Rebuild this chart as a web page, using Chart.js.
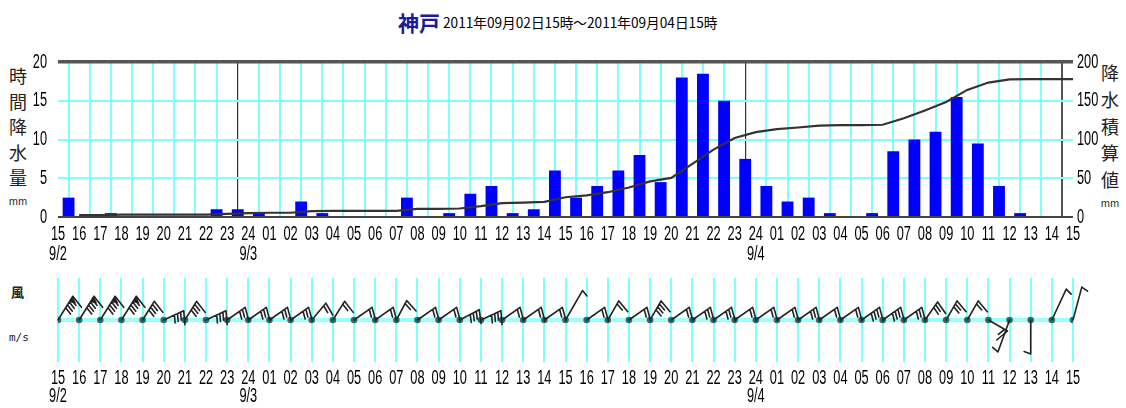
<!DOCTYPE html>
<html><head><meta charset="utf-8">
<script src="https://cdn.jsdelivr.net/npm/chart.js@4.4.1/dist/chart.umd.min.js"></script>
<style>
html,body{margin:0;padding:0;background:#fff;}
body{width:1126px;height:408px;overflow:hidden;position:relative;font-family:'Noto Sans CJK JP',sans-serif;}
canvas{position:absolute;left:0;}
#c1{top:0;}
#c2{top:265px;}
.title{position:absolute;left:398px;top:7px;white-space:nowrap;}
.title .st{color:#1a1a9a;font-size:21px;font-weight:bold;vertical-align:middle;}
.title .dt{display:inline-block;color:#000;font-size:14px;font-family:'Noto Sans CJK JP',sans-serif;transform:scaleX(0.975);transform-origin:left center;vertical-align:middle;margin-left:3px;}
.vt{position:absolute;width:24px;text-align:center;font-size:18px;color:#222;}
.vt .u{font-size:10px;line-height:20px;display:block;}
.wl{position:absolute;font-size:13px;color:#222;}
</style>
</head><body>
<div class="title"><span class="st">神戸</span><span class="dt">2011年09月02日15時～2011年09月04日15時</span></div>
<div class="vt" style="left:6px;top:63px;line-height:25.5px;">時<br>間<br>降<br>水<br>量<span class="u">mm</span></div>
<div class="vt" style="left:1098px;top:59px;line-height:26.8px;">降<br>水<br>積<br>算<br>値<span class="u">mm</span></div>
<div class="wl" style="left:11px;top:282px;font-weight:bold;">風</div>
<div class="wl" style="left:9px;top:331px;font-size:11px;font-family:'DejaVu Sans Mono',monospace;">m/s</div>
<canvas id="c1" width="1126" height="265"></canvas>
<canvas id="c2" width="1126" height="143"></canvas>
<script>
// ---- data ----
const hourLabels = ['15','16','17','18','19','20','21','22','23','24',
  '01','02','03','04','05','06','07','08','09','10','11','12','13','14','15','16','17','18','19','20','21','22','23','24',
  '01','02','03','04','05','06','07','08','09','10','11','12','13','14','15'];
const dateLabels = {0:'9/2', 9:'9/3', 33:'9/4'};
// hourly precipitation (mm) for each hour interval
const hourlyPrecip = [2.5,0,0.5,0,0,0,0,1.0,1.0,
  0.5,0,2.0,0.5,0,0,0,2.5,0,0.5,3.0,4.0,0.5,1.0,6.0,2.5,4.0,6.0,8.0,4.5,18.0,18.5,15.0,7.5,
  4.0,2.0,2.5,0.5,0,0.5,8.5,10.0,11.0,15.5,9.5,4.0,0.5,0,0];
// wind: direction the shaft points (deg clockwise from north) and speed class
const windDir = [32,32,32,32,32,65,32,65,55,55,55,55,40,32,55,55,28,55,55,62,65,55,55,55,30,55,30,55,30,55,55,55,55,55,55,55,55,55,55,55,55,35,30,30,120,200,180,25,15];
const windSpeed = [5,5,5,5,4,4,4,4,3,3,3,3,2,2,2,2,2,2,2,4,4,2,2,2,1,2,2,2,4,2,3,3,2,2,2,3,2,2,4,4,3,3,3,2,2,1,1,1,1];

const cumPrecip = [];
hourlyPrecip.reduce((s,v,i)=>{ s+=v; cumPrecip.push(s); return s; },0);

const CYAN = '#80ffff';
const xTickText = (v)=> dateLabels[v] !== undefined ? [hourLabels[v], dateLabels[v]] : [hourLabels[v]];

// narrow tick-label drawing (labels come from the library's own ticks)
function narrowText(ctx, s, x, y, align){
  ctx.save(); ctx.translate(x,y); ctx.scale(0.64,1);
  ctx.textAlign=align; ctx.textBaseline='middle'; ctx.fillText(s,0,0); ctx.restore();
}
const tickLabelPlugin = {
  id:'tickLabels',
  afterDraw(chart, args, opts){
    const ctx=chart.ctx; ctx.save(); ctx.fillStyle='#000'; ctx.font='20px "Liberation Sans", Arial, sans-serif';
    const xs=chart.scales.x;
    xs.ticks.forEach((t,idx)=>{
      const px=xs.getPixelForTick(idx);
      xTickText(t.value).forEach((s,j)=> narrowText(ctx, s, px, xs.top+opts.xOff+j*opts.lh, 'center'));
    });
    const ys=chart.scales.y;
    if(ys && ys.options.display){
      ys.ticks.forEach((t,idx)=> narrowText(ctx, String(t.value), ys.right-11, ys.getPixelForTick(idx), 'right'));
    }
    const y2=chart.scales.y2;
    if(y2){
      y2.ticks.forEach((t,idx)=> narrowText(ctx, String(t.value), y2.left+4, y2.getPixelForTick(idx), 'left'));
    }
    ctx.restore();
  }
};

// ---- top chart: precipitation ----
new Chart(document.getElementById('c1'), {
  data:{datasets:[
    {type:'line', data:cumPrecip.map((v,i)=>({x:i+1,y:v})), yAxisID:'y2', borderColor:'#333', borderWidth:2.2, pointRadius:0, tension:0, order:1},
    {type:'bar', data:hourlyPrecip.map((v,i)=>({x:i+0.5,y:v})), yAxisID:'y', backgroundColor:'#0000ff', barPercentage:0.56, categoryPercentage:1, order:2}
  ]},
  options:{
    responsive:false, animation:false, devicePixelRatio:1,
    layout:{padding:{top:62,left:0,right:0,bottom:0}},
    plugins:{legend:{display:false}, tooltip:{enabled:false}, tickLabels:{xOff:17, lh:20}},
    scales:{
      x:{type:'linear', min:0, max:48, offset:false,
        ticks:{stepSize:1, autoSkip:false, maxRotation:0, minRotation:0, display:false},
        grid:{drawTicks:false, color:(c)=>{const v=c.tick&&c.tick.value; if(v===0) return '#222'; if(v===48) return '#555'; if(v===9||v===33) return '#333'; return CYAN;},
              lineWidth:(c)=>{const v=c.tick&&c.tick.value; return (v===0||v===48)?2:(v===9||v===33)?1.2:2;}},
        border:{display:false},
        afterFit(s){ s.height = 48; }
      },
      y:{position:'left', min:0, max:20,
        ticks:{stepSize:5, display:false},
        grid:{drawTicks:false, color:(c)=>{const v=c.tick&&c.tick.value; if(v===20) return '#555'; if(v===0) return '#444'; return CYAN;},
              lineWidth:(c)=>{const v=c.tick&&c.tick.value; return v===20?3.5:2;}},
        border:{display:false},
        afterFit(s){ s.width = 58; }
      },
      y2:{position:'right', min:0, max:200,
        ticks:{stepSize:50, display:false},
        grid:{display:false, drawTicks:false}, border:{display:false},
        afterFit(s){ s.width = 53; }
      }
    }
  },
  plugins:[tickLabelPlugin]
});

// ---- bottom chart: wind ----
const windPlugin = {
  id:'windPlugin',
  beforeDatasetsDraw(chart){
    const {ctx, chartArea, scales:{y}} = chart;
    const py = y.getPixelForValue(0);
    ctx.save(); ctx.strokeStyle='#99ffff'; ctx.lineWidth=4;
    ctx.beginPath(); ctx.moveTo(chartArea.left, py); ctx.lineTo(chartArea.right, py); ctx.stroke();
    ctx.restore();
  },
  afterDatasetsDraw(chart){
    const {ctx, scales:{x,y}} = chart;
    ctx.save(); ctx.strokeStyle='#222'; ctx.fillStyle='#222'; ctx.lineWidth=1.6; ctx.lineCap='round';
    windDir.forEach((d,i)=>{
      const ox=x.getPixelForValue(i), oy=y.getPixelForValue(0);
      const a=d*Math.PI/180, ux=Math.sin(a), uy=-Math.cos(a);
      const n=windSpeed[i];
      const L = n>=5 ? 28 : (n===1 ? 34 : 22);
      const tx=ox+ux*L, ty=oy+uy*L;
      const fa=a+110*Math.PI/180, fx=Math.sin(fa), fy=-Math.cos(fa);
      const mainLen = n>1 ? 14 : 7;
      ctx.beginPath();
      ctx.moveTo(ox,oy); ctx.lineTo(tx,ty);
      ctx.moveTo(tx,ty); ctx.lineTo(tx+fx*mainLen, ty+fy*mainLen);
      for(let k=1;k<n;k++){
        const bx=tx-ux*k*3.4, by=ty-uy*k*3.4;
        ctx.moveTo(bx,by); ctx.lineTo(bx+fx*8, by+fy*8);
      }
      ctx.stroke();
      if(n>=5){
        ctx.beginPath(); ctx.moveTo(tx,ty); ctx.lineTo(tx-ux*7,ty-uy*7); ctx.lineTo(tx+fx*7-ux*2, ty+fy*7-uy*2); ctx.closePath(); ctx.fill();
      }
    });
    ctx.restore();
  }
};

new Chart(document.getElementById('c2'), {
  type:'scatter',
  data:{datasets:[{data:windDir.map((d,i)=>({x:i,y:0})), pointRadius:3.3, pointBackgroundColor:'#2f6b6b', pointBorderWidth:0}]},
  options:{
    responsive:false, animation:false, devicePixelRatio:1,
    layout:{padding:{top:13,left:58,right:53,bottom:0}},
    plugins:{legend:{display:false}, tooltip:{enabled:false}, tickLabels:{xOff:16, lh:18}},
    scales:{
      x:{type:'linear', min:0, max:48, offset:false,
        ticks:{stepSize:1, autoSkip:false, maxRotation:0, minRotation:0, display:false},
        grid:{drawTicks:false, color:CYAN, lineWidth:2},
        border:{display:false},
        afterFit(s){ s.height = 46; }
      },
      y:{display:false, min:-1, max:1}
    }
  },
  plugins:[windPlugin, tickLabelPlugin]
});
</script>
</body></html>
